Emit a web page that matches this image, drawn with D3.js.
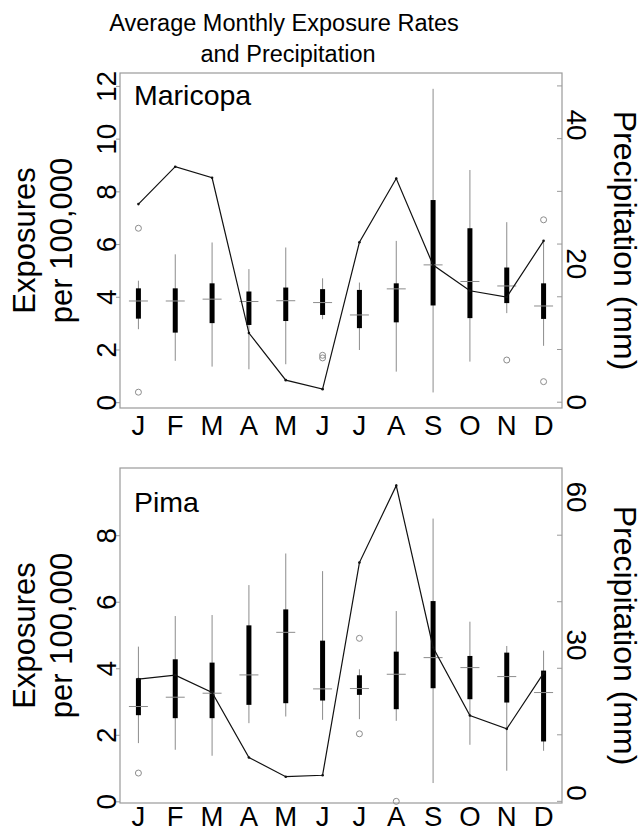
<!DOCTYPE html>
<html>
<head>
<meta charset="utf-8">
<script src="https://cdn.jsdelivr.net/npm/d3@7.9.0/dist/d3.min.js"></script>
<style>
  body { margin: 0; background: #fff; }
  svg { display: block; font-family: "Liberation Sans", Arial, Helvetica, sans-serif; }
</style>
</head>
<body>
<svg id="chart" width="642" height="832"></svg>
<script>
const months = ['J', 'F', 'M', 'A', 'M', 'J', 'J', 'A', 'S', 'O', 'N', 'D'];

// Maricopa – exposures per 100,000 (box plot stats)
const maricopaLow    = [2.77, 1.57, 1.35, 1.25, 1.44, 3.15, 1.98, 1.16, 0.37, 1.54, 3.38, 2.14];
const maricopaQ1     = [3.17, 2.64, 3.00, 2.93, 3.08, 3.31, 2.81, 3.03, 3.67, 3.19, 3.76, 3.16];
const maricopaMedian = [3.84, 3.84, 3.91, 3.82, 3.85, 3.78, 3.31, 4.30, 5.21, 4.58, 4.41, 3.65];
const maricopaQ3     = [4.32, 4.32, 4.51, 4.20, 4.35, 4.29, 4.26, 4.51, 7.67, 6.60, 5.11, 4.51];
const maricopaHigh   = [4.61, 5.61, 6.06, 5.05, 5.87, 4.70, 4.54, 6.12, 11.89, 8.81, 6.83, 6.10];
const maricopaOutliers = [[1, 6.60], [1, 0.38], [6, 1.78], [6, 1.68], [11, 1.60], [12, 6.92], [12, 0.78]];
// Maricopa – precipitation (mm)
const maricopaPrecip = [28.6, 34.0, 32.4, 10.0, 3.2, 1.9, 23.1, 32.3, 19.8, 16.1, 15.2, 23.3];

// Pima – exposures per 100,000 (box plot stats)
const pimaLow    = [1.75, 1.55, 1.37, 2.35, 2.55, 2.45, 2.47, 2.42, 0.55, 1.70, 0.92, 1.52];
const pimaQ1     = [2.59, 2.50, 2.50, 2.90, 2.95, 3.03, 3.20, 2.77, 3.40, 3.07, 2.97, 1.80];
const pimaMedian = [2.85, 3.13, 3.25, 3.80, 5.08, 3.38, 3.39, 3.82, 4.32, 4.02, 3.75, 3.27];
const pimaQ3     = [3.70, 4.27, 4.17, 5.29, 5.77, 4.83, 3.79, 4.50, 6.02, 4.37, 4.47, 3.93];
const pimaHigh   = [4.65, 5.57, 5.60, 6.50, 7.45, 6.92, 3.97, 5.72, 8.50, 5.40, 4.67, 4.53];
const pimaOutliers = [[1, 0.85], [7, 4.90], [7, 2.03], [8, 0.0]];
// Pima – precipitation (mm)
const pimaPrecip = [23.1, 23.9, 20.4, 7.2, 3.3, 3.6, 46.7, 62.3, 29.5, 15.7, 13.0, 24.3];

const maricopaTicks = [0, 2, 4, 6, 8, 10, 12];
const maricopaPrecipTicks = [0, 20, 40];
const pimaTicks = [0, 2, 4, 6, 8];
const pimaPrecipTicks = [0, 30, 60];

const svg = d3.select('#chart');
const gray = '#9a9a9a';
const left = 120, right = 562;

const x = d3.scaleLinear().domain([0.5, 12.5]).range([left, right]);

// Title
svg.append('text')
  .attr('x', 284).attr('y', 31)
  .attr('text-anchor', 'middle')
  .attr('font-size', 23.5)
  .text('Average Monthly Exposure Rates');
svg.append('text')
  .attr('x', 288).attr('y', 62)
  .attr('text-anchor', 'middle')
  .attr('font-size', 23.5)
  .text('and Precipitation');

function drawPanel(opts) {
  const { top, bottom, name, labelY, yDomain, pDomain, low, q1, med, q3, high,
          outliers, precip, ticks, pTicks, monthY } = opts;
  const g = svg.append('g');

  const y = d3.scaleLinear().domain(yDomain).range([bottom, top]);
  const yP = d3.scaleLinear().domain(pDomain).range([bottom, top]);

  // frame
  g.append('rect')
    .attr('x', left).attr('y', top)
    .attr('width', right - left).attr('height', bottom - top)
    .attr('fill', 'none').attr('stroke', gray).attr('stroke-width', 1.2);

  // left axis
  const yAxis = d3.axisLeft(y).tickValues(ticks).tickSize(4).tickPadding(4);
  const ga = g.append('g').attr('transform', `translate(${left},0)`).call(yAxis);
  ga.select('.domain').remove();
  ga.selectAll('.tick line').attr('stroke', gray);
  ga.selectAll('.tick text')
    .attr('font-size', 28)
    .attr('fill', '#000')
    .attr('x', null).attr('dy', null)
    .attr('text-anchor', 'middle')
    .attr('transform', 'translate(-4,0) rotate(-90)');

  // right axis: tick marks at exposure ticks (inside), labels on precip scale
  g.append('g').selectAll('line')
    .data(ticks).join('line')
    .attr('x1', right - 5).attr('x2', right)
    .attr('y1', d => y(d)).attr('y2', d => y(d))
    .attr('stroke', gray);
  g.append('g').selectAll('text')
    .data(pTicks).join('text')
    .attr('transform', d => `translate(${right + 5},${yP(d)}) rotate(90)`)
    .attr('text-anchor', 'middle')
    .attr('font-size', 28)
    .text(d => d);

  // month labels
  g.append('g').selectAll('text')
    .data(months).join('text')
    .attr('x', (d, i) => x(i + 1)).attr('y', monthY)
    .attr('text-anchor', 'middle')
    .attr('font-size', 27.5)
    .text(d => d);

  // axis titles
  const cy = (top + bottom) / 2;
  g.append('text')
    .attr('transform', `translate(35,${cy}) rotate(-90)`)
    .attr('text-anchor', 'middle').attr('font-size', 31)
    .text('Exposures');
  g.append('text')
    .attr('transform', `translate(72,${cy}) rotate(-90)`)
    .attr('text-anchor', 'middle').attr('font-size', 31)
    .text('per 100,000');
  g.append('text')
    .attr('transform', `translate(614,${cy}) rotate(90)`)
    .attr('text-anchor', 'middle').attr('font-size', 32)
    .text('Precipitation (mm)');

  // panel label
  g.append('text')
    .attr('x', 134).attr('y', labelY)
    .attr('font-size', 28.5)
    .text(name);

  const idx = d3.range(12);

  // whiskers
  g.append('g').selectAll('line')
    .data(idx).join('line')
    .attr('x1', i => x(i + 1)).attr('x2', i => x(i + 1))
    .attr('y1', i => y(low[i])).attr('y2', i => y(high[i]))
    .attr('stroke', '#8c8c8c').attr('stroke-width', 1);

  // boxes (IQR)
  g.append('g').selectAll('rect')
    .data(idx).join('rect')
    .attr('x', i => x(i + 1) - 2.5).attr('width', 5)
    .attr('y', i => y(q3[i])).attr('height', i => y(q1[i]) - y(q3[i]))
    .attr('fill', '#000');

  // medians
  g.append('g').selectAll('line')
    .data(idx).join('line')
    .attr('x1', i => x(i + 1) - 9.5).attr('x2', i => x(i + 1) + 9.5)
    .attr('y1', i => y(med[i])).attr('y2', i => y(med[i]))
    .attr('stroke', '#8c8c8c').attr('stroke-width', 1);

  // outliers
  g.append('g').selectAll('circle')
    .data(outliers).join('circle')
    .attr('cx', d => x(d[0])).attr('cy', d => y(d[1]))
    .attr('r', 3)
    .attr('fill', 'none').attr('stroke', '#8c8c8c').attr('stroke-width', 1);

  // precipitation line
  const line = d3.line().x((d, i) => x(i + 1)).y(d => yP(d));
  g.append('path')
    .datum(precip)
    .attr('d', line)
    .attr('fill', 'none').attr('stroke', '#111').attr('stroke-width', 1.2);
  g.append('g').selectAll('circle')
    .data(precip).join('circle')
    .attr('cx', (d, i) => x(i + 1)).attr('cy', d => yP(d))
    .attr('r', 1.3).attr('fill', '#111');
}

drawPanel({
  top: 73, bottom: 408, name: 'Maricopa', labelY: 105,
  yDomain: [-0.22, 12.49], pDomain: [-0.82, 47.52],
  low: maricopaLow, q1: maricopaQ1, med: maricopaMedian, q3: maricopaQ3, high: maricopaHigh,
  outliers: maricopaOutliers, precip: maricopaPrecip,
  ticks: maricopaTicks, pTicks: maricopaPrecipTicks, monthY: 435
});

drawPanel({
  top: 468, bottom: 803, name: 'Pima', labelY: 512,
  yDomain: [-0.05, 10.02], pDomain: [-2.03, 65.88],
  low: pimaLow, q1: pimaQ1, med: pimaMedian, q3: pimaQ3, high: pimaHigh,
  outliers: pimaOutliers, precip: pimaPrecip,
  ticks: pimaTicks, pTicks: pimaPrecipTicks, monthY: 826
});
</script>
</body>
</html>
